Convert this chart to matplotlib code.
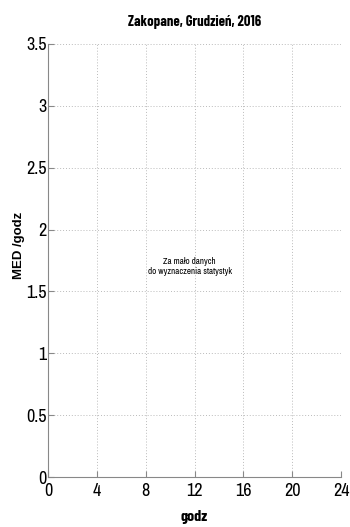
import matplotlib
matplotlib.use("Agg")
import matplotlib.pyplot as plt
from matplotlib import font_manager

installed = {f.name for f in font_manager.fontManager.ttflist}


def pick(cands):
    return next((n for n in cands if n in installed), "DejaVu Sans")


narrow = pick(["Liberation Sans Narrow", "Archivo Narrow", "DejaVu Sans"])
narrow_bold = pick(["Liberation Sans Narrow", "Barlow Condensed", "Asap Condensed", "DejaVu Sans"])
sans = pick(["Liberation Sans", "Arimo", "DejaVu Sans"])

title = "Zakopane, Grudzień, 2016"
xlabel = "godz"
ylabel = "MED /godz"
note = "Za mało danych\ndo wyznaczenia statystyk"
xticks = [0, 4, 8, 12, 16, 20, 24]
yticks = [0, 0.5, 1, 1.5, 2, 2.5, 3, 3.5]
ytick_labels = ["0", "0.5", "1", "1.5", "2", "2.5", "3", "3.5"]

fig = plt.figure(figsize=(3.5, 5.27), dpi=100)
ax = fig.add_axes([48 / 350, 1 - 477 / 527, 293 / 350, 433 / 527])
ax.set_xlim(0, 24)
ax.set_ylim(0, 3.5)
ax.set_xticks(xticks)
ax.set_yticks(yticks)
ax.set_xticklabels([str(t) for t in xticks], fontfamily=narrow, fontsize=13)
ax.set_yticklabels(ytick_labels, fontfamily=narrow, fontsize=13)
ax.tick_params(direction="in", length=4, color="#888888", pad=1)
ax.tick_params(axis="x", pad=4)
ax.grid(True, linestyle=(0, (1, 2)), color="#bbbbbb", linewidth=0.7)
for s in ["top", "right"]:
    ax.spines[s].set_visible(False)
for s in ["left", "bottom"]:
    ax.spines[s].set_color("#888888")
    ax.spines[s].set_linewidth(0.8)

ax.set_title(title, fontfamily=narrow_bold, fontweight="bold", fontsize=10.5, pad=13)
ax.set_xlabel(xlabel, fontfamily=narrow_bold, fontweight="bold", fontsize=11.5, labelpad=8)
ax.set_ylabel(ylabel, fontfamily=sans, fontweight="bold", fontsize=9.5)
ax.yaxis.set_label_coords(-23 / 293, 0.536)
ax.text(11.6, 1.7, note, ha="center", va="center", fontfamily=narrow, fontsize=6.5)

fig.savefig("out.png", dpi=100)
